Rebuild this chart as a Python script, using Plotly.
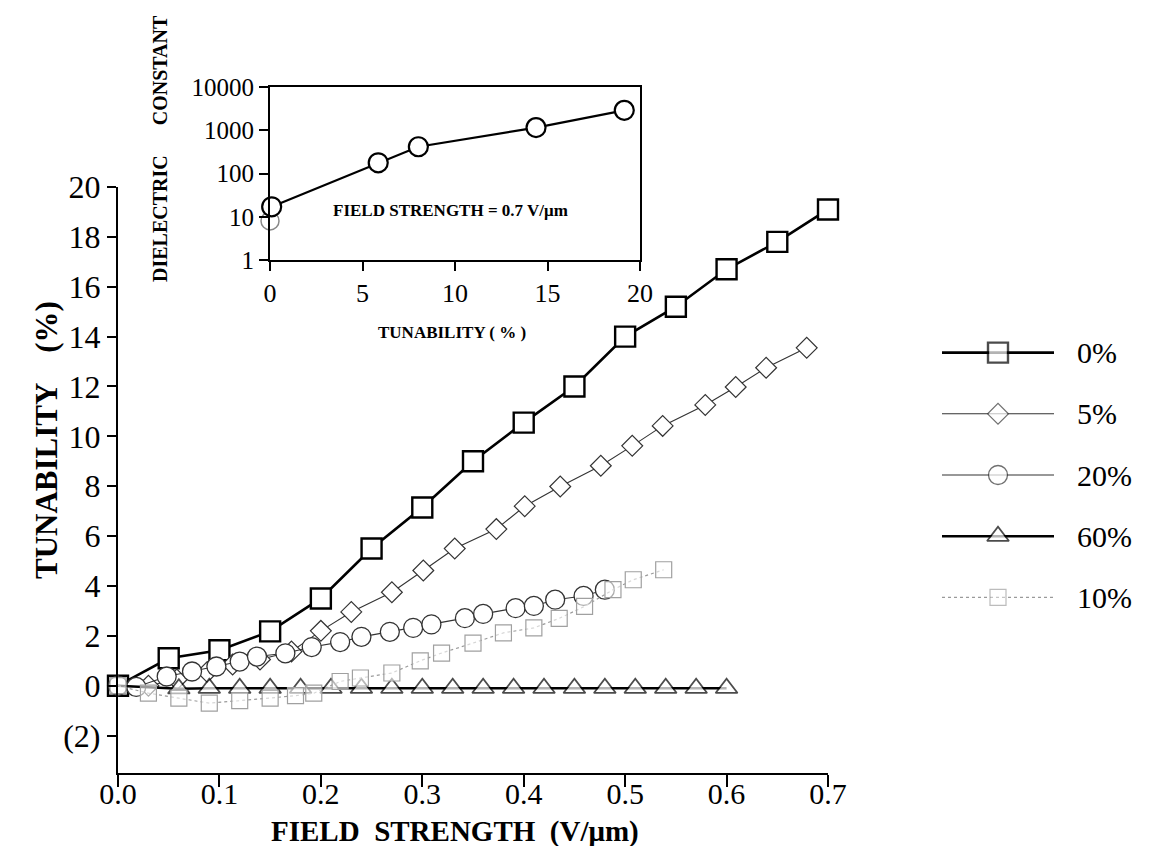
import plotly.graph_objects as go

# ---------------- data ----------------
# Main chart: tunability (%) vs field strength (V/um) for several dopant levels
x_0 = [0.0, 0.05, 0.10, 0.15, 0.20, 0.25, 0.30, 0.35, 0.40, 0.45, 0.50, 0.55, 0.60, 0.65, 0.70]
y_0 = [0.0, 1.1, 1.42, 2.18, 3.5, 5.5, 7.15, 9.0, 10.55, 12.0, 14.0, 15.2, 16.7, 17.8, 19.1]

x_5 = [0.0, 0.03, 0.058, 0.088, 0.113, 0.14, 0.171, 0.2, 0.23, 0.27, 0.301, 0.332, 0.373,
       0.401, 0.436, 0.476, 0.507, 0.537, 0.579, 0.609, 0.639, 0.679]
y_5 = [0.0, 0.0, 0.25, 0.55, 0.85, 1.05, 1.37, 2.2, 2.96, 3.75, 4.62, 5.5, 6.28,
       7.2, 7.99, 8.82, 9.62, 10.42, 11.26, 11.98, 12.75, 13.55]

x_20 = [0.0, 0.018, 0.048, 0.073, 0.097, 0.12, 0.137, 0.165, 0.191, 0.219, 0.24, 0.268,
        0.291, 0.309, 0.342, 0.36, 0.392, 0.41, 0.431, 0.459, 0.48]
y_20 = [0.0, -0.05, 0.37, 0.57, 0.77, 0.97, 1.17, 1.3, 1.55, 1.75, 1.96, 2.16,
        2.32, 2.46, 2.71, 2.88, 3.11, 3.2, 3.45, 3.6, 3.85]

x_60 = [0.0, 0.06, 0.09, 0.12, 0.15, 0.18, 0.21, 0.24, 0.27, 0.30, 0.33, 0.36, 0.39,
        0.42, 0.45, 0.48, 0.51, 0.54, 0.57, 0.60]
y_60 = [0.0, -0.12, -0.1, -0.1, -0.1, -0.1, -0.1, -0.1, -0.1, -0.1, -0.1, -0.1, -0.1,
        -0.1, -0.1, -0.1, -0.1, -0.1, -0.1, -0.1]

x_10 = [0.0, 0.03, 0.06, 0.09, 0.12, 0.15, 0.175, 0.193, 0.219, 0.239, 0.27, 0.298,
        0.319, 0.35, 0.38, 0.41, 0.435, 0.46, 0.488, 0.508, 0.538]
y_10 = [0.0, -0.3, -0.5, -0.7, -0.6, -0.5, -0.4, -0.3, 0.17, 0.31, 0.51, 1.0,
        1.31, 1.71, 2.12, 2.32, 2.7, 3.18, 3.85, 4.25, 4.65]

series_names = ["0%", "5%", "20%", "60%", "10%"]

# Inset: dielectric constant vs tunability at 0.7 V/um
inset_x = [0.09, 5.85, 8.02, 14.38, 19.15]
inset_y = [17, 177, 415, 1150, 2890]
inset_extra_x = [0.0]
inset_extra_y = [8]

main_yticks = [-2, 0, 2, 4, 6, 8, 10, 12, 14, 16, 18, 20]
main_yticktext = ["(2)", "0", "2", "4", "6", "8", "10", "12", "14", "16", "18", "20"]
main_xticks = [0.0, 0.1, 0.2, 0.3, 0.4, 0.5, 0.6, 0.7]
inset_xticks = [0, 5, 10, 15, 20]
inset_yticks = [1, 10, 100, 1000, 10000]
inset_yticktext = ["1", "10", "100", "1000", "10000"]

# legend key: sample segment positions (left end, marker, right end)
legend_sample_x = [0, 1, 2]

# ---------------- figure ----------------
W, H = 1155, 846
SERIF = "Liberation Serif, Times New Roman, serif"


def px_x(p):
    return p / W


def px_y(p):
    return 1 - p / H


styles = [
    dict(line=dict(color="black", width=2.6),
         marker=dict(symbol="square", size=20, color="white", line=dict(color="black", width=2.4))),
    dict(line=dict(color="#333333", width=1.1),
         marker=dict(symbol="diamond", size=16, color="white", line=dict(color="#333333", width=1.2))),
    dict(line=dict(color="#333333", width=1.1),
         marker=dict(symbol="circle", size=19, color="white", line=dict(color="#333333", width=1.3))),
    dict(line=dict(color="black", width=2.6),
         marker=dict(symbol="triangle-up", size=19, color="white", line=dict(color="black", width=1.8))),
    dict(line=dict(color="#9a9a9a", width=1.2, dash="dot"),
         marker=dict(symbol="square", size=16, color="rgba(255,255,255,0.6)",
                     line=dict(color="#a0a0a0", width=1.2))),
]
series_x = [x_0, x_5, x_20, x_60, x_10]
series_y = [y_0, y_5, y_20, y_60, y_10]

fig = go.Figure()

for i, (xs, ys) in enumerate(zip(series_x, series_y)):
    st = styles[i]
    marker = dict(st["marker"])
    if i == 3:  # triangle series starts under the common origin square
        marker["size"] = [0] + [st["marker"]["size"]] * (len(xs) - 1)
    fig.add_trace(go.Scatter(
        x=xs, y=ys, name=series_names[i], xaxis="x", yaxis="y",
        mode="lines+markers", cliponaxis=False, showlegend=False,
        line=st["line"], marker=marker))

# Inset traces
fig.add_trace(go.Scatter(
    x=inset_extra_x, y=inset_extra_y, xaxis="x2", yaxis="y2", mode="markers",
    showlegend=False, cliponaxis=False,
    marker=dict(symbol="circle", size=18, color="white", line=dict(color="#888888", width=1.5))))
fig.add_trace(go.Scatter(
    x=inset_x, y=inset_y, xaxis="x2", yaxis="y2", mode="lines+markers",
    showlegend=False, cliponaxis=False,
    line=dict(color="black", width=2.2),
    marker=dict(symbol="circle", size=19, color="white", line=dict(color="black", width=2.2))))

# Legend key drawn on its own small axes
for i, name in enumerate(series_names):
    st = styles[i]
    m = dict(st["marker"])
    m["size"] = [0, st["marker"]["size"], 0]
    fig.add_trace(go.Scatter(
        x=legend_sample_x, y=[name] * len(legend_sample_x), xaxis="x3", yaxis="y3",
        mode="lines+markers", showlegend=False, cliponaxis=False,
        line=st["line"], marker=m, hoverinfo="skip"))

main_xdom = [px_x(118), px_x(828)]
main_ydom = [px_y(773), px_y(187)]
inset_xdom = [px_x(270), px_x(640)]
inset_ydom = [px_y(260), px_y(87)]
leg_xdom = [px_x(942), px_x(1054)]
leg_ydom = [px_y(628), px_y(322)]

fig.update_layout(
    template="none",
    width=W, height=H,
    margin=dict(l=0, r=0, t=0, b=0, autoexpand=False),
    paper_bgcolor="white", plot_bgcolor="rgba(0,0,0,0)",
    font=dict(family=SERIF, color="black"),
    showlegend=False,
    xaxis=dict(
        domain=main_xdom, range=[0, 0.7], anchor="y", automargin=False,
        tickvals=main_xticks, tickformat=".1f",
        showline=True, linecolor="black", linewidth=2.2,
        ticks="outside", ticklen=12, tickwidth=2, tickcolor="black",
        ticklabelstandoff=-19,
        showgrid=False, zeroline=False,
        tickfont=dict(family=SERIF, size=30),
    ),
    yaxis=dict(
        domain=main_ydom, range=[-3.5, 20], anchor="x", automargin=False,
        tickvals=main_yticks, ticktext=main_yticktext,
        showline=True, linecolor="black", linewidth=2.2,
        ticks="outside", ticklen=9, tickwidth=2, tickcolor="black",
        showgrid=False, zeroline=False,
        tickfont=dict(family=SERIF, size=32),
    ),
    xaxis2=dict(
        domain=inset_xdom, range=[0, 20], anchor="y2", automargin=False,
        tickvals=inset_xticks,
        showline=True, mirror=True, linecolor="black", linewidth=2,
        ticks="outside", ticklen=9, tickwidth=2, tickcolor="black",
        showgrid=False, zeroline=False,
        tickfont=dict(family=SERIF, size=26),
    ),
    yaxis2=dict(
        domain=inset_ydom, type="log", range=[0, 4], anchor="x2", automargin=False,
        tickvals=inset_yticks, ticktext=inset_yticktext,
        showline=True, mirror=True, linecolor="black", linewidth=2,
        ticks="outside", ticklen=9, tickwidth=2, tickcolor="black",
        showgrid=False, zeroline=False,
        tickfont=dict(family=SERIF, size=25),
    ),
    xaxis3=dict(
        domain=leg_xdom, range=[0, 2], anchor="y3", automargin=False,
        visible=False, fixedrange=True,
    ),
    yaxis3=dict(
        domain=leg_ydom, type="category", categoryorder="array", categoryarray=series_names,
        range=[4.5, -0.5], anchor="x3", side="right", automargin=False,
        showline=False, showgrid=False, zeroline=False, ticks="",
        ticklabelstandoff=22, fixedrange=True,
        tickfont=dict(family=SERIF, size=30),
    ),
)

annotations = [
    dict(text="<b>TUNABILITY    (%)</b>", x=px_x(46), y=px_y(440), textangle=-90,
         font=dict(family=SERIF, size=31)),
    dict(text="<b>FIELD  STRENGTH  (V/μm)</b>", x=px_x(455), y=px_y(831),
         font=dict(family=SERIF, size=29)),
    dict(text="<b>DIELECTRIC      CONSTANT</b>", x=px_x(160), y=px_y(149), textangle=-90,
         font=dict(family=SERIF, size=20)),
    dict(text="<b>TUNABILITY ( % )</b>", x=px_x(452), y=px_y(333),
         font=dict(family=SERIF, size=17)),
    dict(text="<b>FIELD STRENGTH = 0.7 V/μm</b>", x=px_x(450), y=px_y(211),
         font=dict(family=SERIF, size=17)),
]
for a in annotations:
    a.update(xref="paper", yref="paper", showarrow=False, xanchor="center", yanchor="middle")
fig.update_layout(annotations=annotations)

fig.write_html("out.html", config={"displayModeBar": False},
               post_script="document.body.style.margin='0px';")
